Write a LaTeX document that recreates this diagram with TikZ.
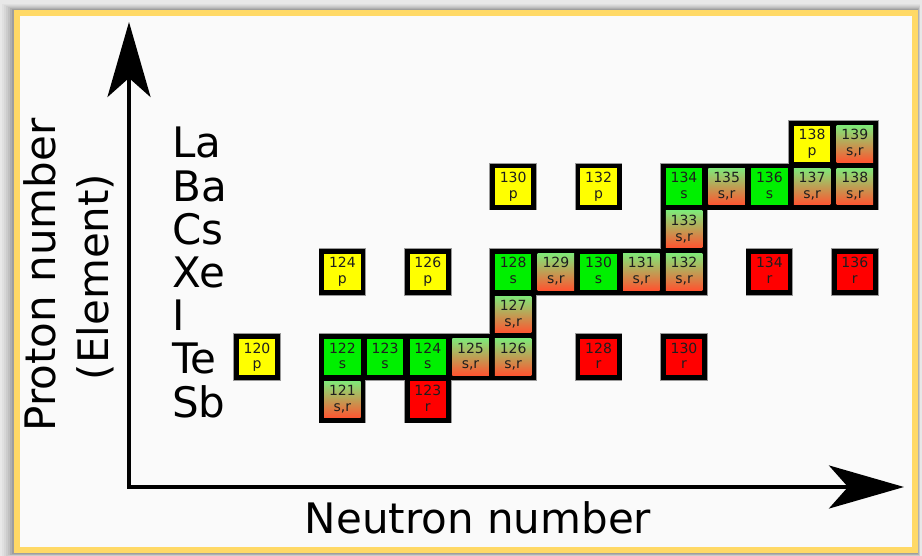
\documentclass[tikz,border=0pt]{standalone}
\usepackage{fontspec}
\setmainfont{DejaVu Sans}
\usetikzlibrary{arrows.meta}
\definecolor{frameY}{RGB}{255,217,102}
\definecolor{cellP}{RGB}{255,255,0}
\definecolor{cellS}{RGB}{0,240,0}
\definecolor{cellR}{RGB}{255,0,0}
\definecolor{srTop}{RGB}{128,232,120}
\definecolor{srBot}{RGB}{255,84,48}
\definecolor{txt}{RGB}{30,30,30}
\def\labp{p}\def\labs{s}\def\labr{r}\def\labsr{s,r}
\def\tilelist{121/70/51/sr, 123/72/51/r,
 120/68/52/p, 122/70/52/s, 123/71/52/s, 124/72/52/s, 125/73/52/sr, 126/74/52/sr, 128/76/52/r, 130/78/52/r,
 127/74/53/sr,
 124/70/54/p, 126/72/54/p, 128/74/54/s, 129/75/54/sr, 130/76/54/s, 131/77/54/sr, 132/78/54/sr, 134/80/54/r, 136/82/54/r,
 133/78/55/sr,
 130/74/56/p, 132/76/56/p, 134/78/56/s, 135/79/56/sr, 136/80/56/s, 137/81/56/sr, 138/82/56/sr,
 138/81/57/p, 139/82/57/sr}
\tikzset{
 greyrim/.style={fill=black!40, minimum size=47.5pt, inner sep=0pt},
 blackbox/.style={fill=black, minimum size=46pt, inner sep=0pt},
 facebase/.style={minimum size=36.5pt, inner sep=0pt},
 facep/.style={facebase, fill=cellP},
 faces/.style={facebase, fill=cellS},
 facer/.style={facebase, fill=cellR},
 facesr/.style={facebase, top color=srTop, bottom color=srBot},
 celltext/.style={font=\fontsize{14}{14}\selectfont, text=txt, inner sep=0pt, anchor=base},
 elem/.style={font=\fontsize{42}{42}\selectfont, anchor=base west, inner sep=0pt},
 axlabel/.style={font=\fontsize{42}{42}\selectfont, anchor=base, inner sep=0pt},
 axis/.style={line width=4pt, line join=miter}
}
\begin{document}
\begin{tikzpicture}[x=1pt,y=-1pt]
\useasboundingbox (0,0) rectangle (922,556);
% outer background and shadow
\fill[black!9] (0,0) rectangle (922,556);
\foreach \d/\o in {12/0.03,10/0.04,8/0.05,6/0.06,4/0.08,2/0.10}
  \fill[black,opacity=\o] (14-\d,10-0.5*\d) rectangle (918+0.2*\d,553+0.4*\d);
% frame
\draw[frameY, line width=6pt, fill=white!98!black] (17,13) rectangle (915,550);
% axes
\coordinate (ytip) at (129,22);
\coordinate (orig) at (129,487);
\coordinate (xtip) at (904,487);
\draw[axis, {Stealth[length=75pt, width=43pt, inset=19pt]}-{Stealth[length=75pt, width=43pt, inset=19pt]}] (ytip) -- (orig) -- (xtip);
% axis labels
\node[axlabel] (xlab) at (478,533) {Neutron number};
\node[axlabel, rotate=90] (ylab1) at (55,275) {Proton number};
\node[axlabel, rotate=90] (ylab2) at (108,277) {(Element)};
% element labels
\foreach \el/\Z in {La/57, Ba/56, Cs/55, Xe/54, I/53, Te/52, Sb/51}
  \node[elem] (e\el) at (172,{158+(57-\Z)*43.17}) {\el};
% tiles: grey rims, then black backs
\foreach \A/\N/\Z/\T in \tilelist
  \node[greyrim] (g\A-\Z) at ({257+(\N-68)*42.7},{357-(\Z-52)*42.6}) {};
\foreach \A/\N/\Z/\T in \tilelist
  \node[blackbox] (k\A-\Z) at (g\A-\Z) {};
% tiles: coloured faces and text
\foreach \A/\N/\Z/\T in \tilelist {
  \node[face\T] (c\A-\Z) at (k\A-\Z) {};
  \node[celltext] (n\A-\Z) at ([yshift=4pt]c\A-\Z.center) {\A};
  \node[celltext] (l\A-\Z) at ([yshift=-12pt]c\A-\Z.center) {\csname lab\T\endcsname};
}
\end{tikzpicture}
\end{document}
